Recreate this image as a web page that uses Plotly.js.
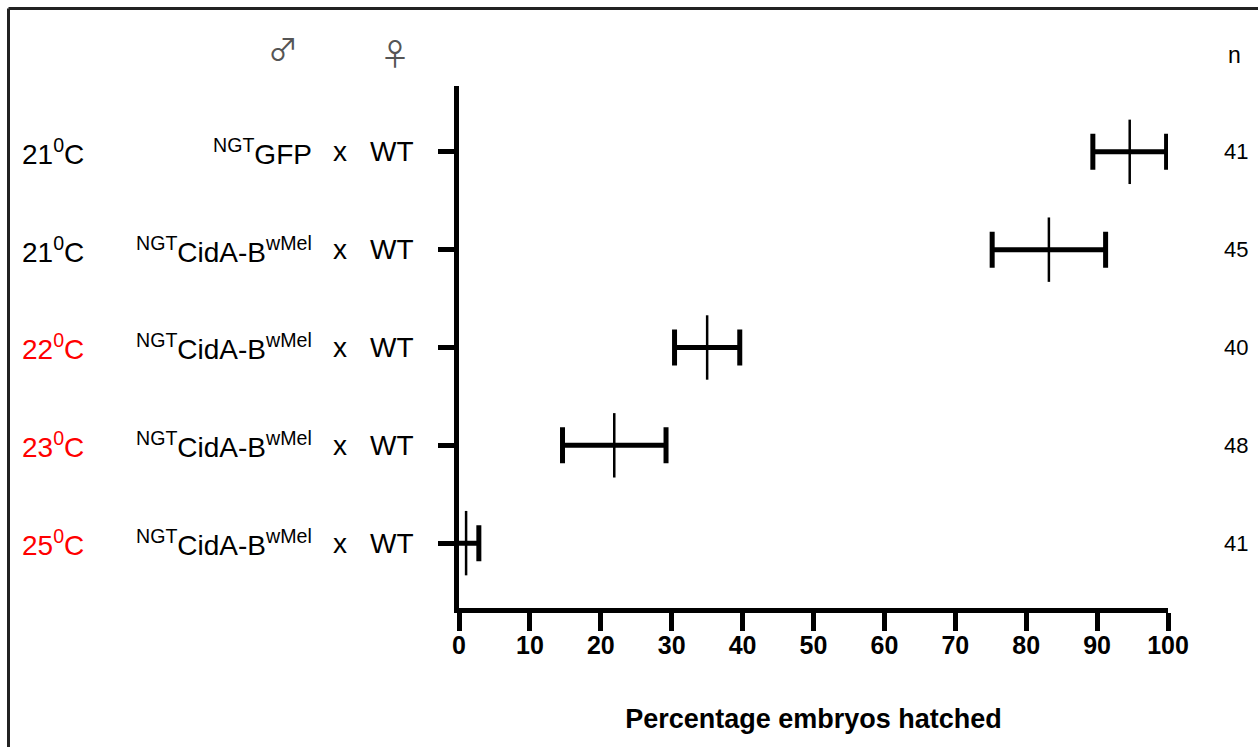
<!DOCTYPE html>
<html>
<head>
<meta charset="utf-8">
<script src="https://cdn.plot.ly/plotly-3.0.1.min.js"></script>
<style>html,body{margin:0;padding:0;background:#fff;}#chart{width:1258px;height:747px;}</style>
</head>
<body>
<div id="chart"></div>
<script>
// ---- data ----
var rows = [1, 2, 3, 4, 5];
var temperatures = ["21<sup>0</sup>C", "21<sup>0</sup>C", "22<sup>0</sup>C", "23<sup>0</sup>C", "25<sup>0</sup>C"];
var tempColors = ["#000000", "#000000", "#ff0000", "#ff0000", "#ff0000"];
var males = ["<sup>NGT</sup>GFP", "<sup>NGT</sup>CidA-B<sup>wMel</sup>", "<sup>NGT</sup>CidA-B<sup>wMel</sup>", "<sup>NGT</sup>CidA-B<sup>wMel</sup>", "<sup>NGT</sup>CidA-B<sup>wMel</sup>"];
var females = ["WT", "WT", "WT", "WT", "WT"];
var meanHatched = [94.6, 83.2, 35.0, 21.9, 1.0];
var errHatched = [5.2, 8.0, 4.6, 7.3, 1.8];
var nEmbryos = [41, 45, 40, 48, 41];
var xTicks = [0, 10, 20, 30, 40, 50, 60, 70, 80, 90, 100];

// ---- geometry helpers (pixel -> paper) ----
var L = 459, R = 1168, T = 86, B = 608;
function px(x) { return (x - L) / (R - L); }
function py(y) { return (B - y) / (B - T); }

var FAM = "Liberation Sans, Arial, sans-serif";
var SYM = "Noto Sans CJK JP, DejaVu Sans, sans-serif";
var annotations = [];
var rowFont = {family: FAM, size: 28, color: "#000"};
rows.forEach(function (r, i) {
  annotations.push({xref: "paper", yref: "y", x: px(20), y: r, xanchor: "left", yanchor: "middle",
    text: temperatures[i], showarrow: false, font: {family: FAM, size: 28, color: tempColors[i]}});
  annotations.push({xref: "paper", yref: "y", x: px(314), y: r, xanchor: "right", yanchor: "middle",
    text: males[i], showarrow: false, font: rowFont});
  annotations.push({xref: "paper", yref: "y", x: px(340), y: r, xanchor: "center", yanchor: "middle",
    text: "x", showarrow: false, font: rowFont});
  annotations.push({xref: "paper", yref: "y", x: px(368), y: r, xanchor: "left", yanchor: "middle",
    text: females[i], showarrow: false, font: rowFont});
  annotations.push({xref: "paper", yref: "y", x: px(1236), y: r, xanchor: "center", yanchor: "middle",
    text: String(nEmbryos[i]), showarrow: false, font: {family: FAM, size: 22, color: "#000"}});
});
annotations.push({xref: "paper", yref: "paper", x: px(283), y: py(47), xanchor: "center", yanchor: "middle",
  text: "♂", showarrow: false, font: {family: SYM, size: 30, color: "#555"}});
annotations.push({xref: "paper", yref: "paper", x: px(395), y: py(52), xanchor: "center", yanchor: "middle",
  text: "♀", showarrow: false, font: {family: SYM, size: 30, color: "#555"}});
annotations.push({xref: "paper", yref: "paper", x: px(1234), y: py(55), xanchor: "center", yanchor: "middle",
  text: "n", showarrow: false, font: {family: FAM, size: 23, color: "#000"}});

var trace = {
  type: "scatter",
  mode: "markers",
  x: meanHatched,
  y: rows,
  marker: {symbol: "line-ns-open", size: 46, color: "#000", line: {color: "#000", width: 2.5}},
  error_x: {type: "data", array: errHatched, visible: true, color: "#000", thickness: 5, width: 18},
  showlegend: false,
  hoverinfo: "x+y"
};

var layout = {
  width: 1258, height: 747,
  margin: {l: L, r: 1258 - R, t: T, b: 747 - B, pad: 0},
  paper_bgcolor: "#fff", plot_bgcolor: "#fff",
  showlegend: false,
  xaxis: {
    range: [0, 100], tickvals: xTicks, ticktext: xTicks.map(String),
    showgrid: false, zeroline: false, showline: true, linecolor: "#000", linewidth: 5,
    ticks: "outside", ticklen: 18, tickwidth: 5, tickcolor: "#000", ticklabelstandoff: -7,
    tickfont: {family: FAM, size: 25, color: "#000", weight: "bold"},
    title: {text: "Percentage embryos hatched", standoff: 53,
      font: {family: FAM, size: 27, color: "#000", weight: "bold"}}
  },
  yaxis: {
    range: [5.663, 0.327], tickvals: rows, showticklabels: false,
    showgrid: false, zeroline: false, showline: true, linecolor: "#000", linewidth: 5,
    ticks: "outside", ticklen: 16, tickwidth: 5, tickcolor: "#000"
  },
  annotations: annotations,
  shapes: [
    {type: "line", xref: "paper", yref: "paper", x0: px(8.5), x1: px(8.5), y0: py(8.5), y1: py(760), line: {color: "#222", width: 3}},
    {type: "line", xref: "paper", yref: "paper", x0: px(8.5), x1: px(1270), y0: py(8.5), y1: py(8.5), line: {color: "#222", width: 3}}
  ]
};

Plotly.newPlot("chart", [trace], layout, {displayModeBar: false, staticPlot: true});
</script>
</body>
</html>
